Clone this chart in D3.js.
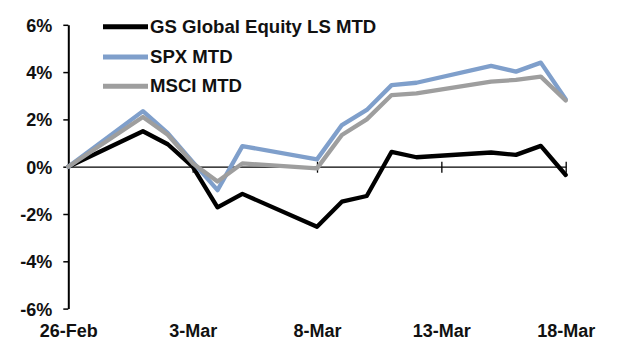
<!DOCTYPE html>
<html>
<head>
<meta charset="utf-8">
<script src="https://cdn.jsdelivr.net/npm/d3@7"></script>
<style>
  html, body { margin: 0; padding: 0; background: #fff; }
  svg { display: block; font-family: Arial, "Liberation Sans", sans-serif; }
</style>
</head>
<body>
<svg id="chart" width="620" height="344"></svg>
<script>
// Trading days (2021) and month-to-date returns, in percent
const dates = ["2021-02-26", "2021-03-01", "2021-03-02", "2021-03-03", "2021-03-04", "2021-03-05",
               "2021-03-08", "2021-03-09", "2021-03-10", "2021-03-11", "2021-03-12",
               "2021-03-15", "2021-03-16", "2021-03-17", "2021-03-18"];
const gsValues   = [0, 1.50, 0.95, 0.00, -1.72, -1.15, -2.54, -1.48, -1.24, 0.63, 0.40, 0.60, 0.50, 0.88, -0.35];
const spxValues  = [0, 2.35, 1.42, 0.20, -0.99, 0.87, 0.31, 1.76, 2.40, 3.45, 3.55, 4.26, 4.02, 4.40, 2.85];
const msciValues = [0, 2.10, 1.35, 0.15, -0.63, 0.14, -0.07, 1.34, 2.00, 3.03, 3.10, 3.60, 3.67, 3.81, 2.80];

const seriesNames = ["GS Global Equity LS MTD", "SPX MTD", "MSCI MTD"];
const seriesColors = ["#000000", "#7f9fcb", "#9e9e9e"];

const xTickDates = ["2021-02-26", "2021-03-03", "2021-03-08", "2021-03-13", "2021-03-18"];
const yTickValues = [-6, -4, -2, 0, 2, 4, 6];

const parse = d3.utcParse("%Y-%m-%d");
const fmtDate = d3.utcFormat("%-d-%b");

const svg = d3.select("#chart");
const plotLeft = 68.3, plotRight = 565.7, plotTop = 24.8, plotBottom = 308.6;

const x = d3.scaleUtc()
  .domain([parse(dates[0]), parse(dates[dates.length - 1])])
  .range([plotLeft, plotRight]);
const y = d3.scaleLinear().domain([-6, 6]).range([plotBottom, plotTop]);

// Y axis
const yAxis = svg.append("g")
  .attr("transform", `translate(${plotLeft},0)`)
  .call(d3.axisLeft(y).tickValues(yTickValues).tickSize(5).tickSizeOuter(0)
    .tickFormat(d => d + "%"));
yAxis.select(".domain").attr("stroke", "#000").attr("stroke-width", 2);
yAxis.selectAll(".tick line").attr("stroke", "#000").attr("stroke-width", 1.5);
yAxis.selectAll(".tick text")
  .attr("x", -16)
  .attr("dy", "0.36em")
  .attr("fill", "#111")
  .style("font-size", "18px")
  .style("font-weight", "bold");

// X axis along the zero line, labels at the bottom of the plot
const zeroY = y(0);
const xAxis = svg.append("g")
  .attr("transform", `translate(0,${zeroY})`)
  .call(d3.axisBottom(x).tickValues(xTickDates.map(parse)).tickSizeOuter(0).tickFormat(fmtDate));
xAxis.select(".domain").attr("stroke", "#000").attr("stroke-width", 1.3);
xAxis.selectAll(".tick line")
  .attr("y1", -5).attr("y2", 6)
  .attr("stroke", "#000").attr("stroke-width", 1.3);
xAxis.selectAll(".tick text")
  .attr("y", 337 - zeroY)
  .attr("dy", 0)
  .attr("fill", "#111")
  .style("font-size", "18px")
  .style("font-weight", "bold");
xAxis.selectAll(".tick").filter((d, i) => i === 0).select("line").remove();

// Series lines
const allSeries = [gsValues, spxValues, msciValues];
const line = d3.line()
  .x((d, i) => x(parse(dates[i])))
  .y(d => y(d));

allSeries.forEach((vals, k) => {
  svg.append("path")
    .datum(vals)
    .attr("fill", "none")
    .attr("stroke", seriesColors[k])
    .attr("stroke-width", 4.3)
    .attr("stroke-linejoin", "round")
    .attr("stroke-linecap", "round")
    .attr("d", line);
});

// Legend
const legendRows = [26.7, 57, 86.3];
seriesNames.forEach((name, k) => {
  const g = svg.append("g");
  g.append("line")
    .attr("x1", 103).attr("x2", 148)
    .attr("y1", legendRows[k]).attr("y2", legendRows[k])
    .attr("stroke", seriesColors[k])
    .attr("stroke-width", 5);
  g.append("text")
    .attr("x", 150)
    .attr("y", legendRows[k] + 5.8)
    .attr("fill", "#111")
    .style("font-size", "18.6px")
    .style("font-weight", "bold")
    .text(name);
});
</script>
</body>
</html>
